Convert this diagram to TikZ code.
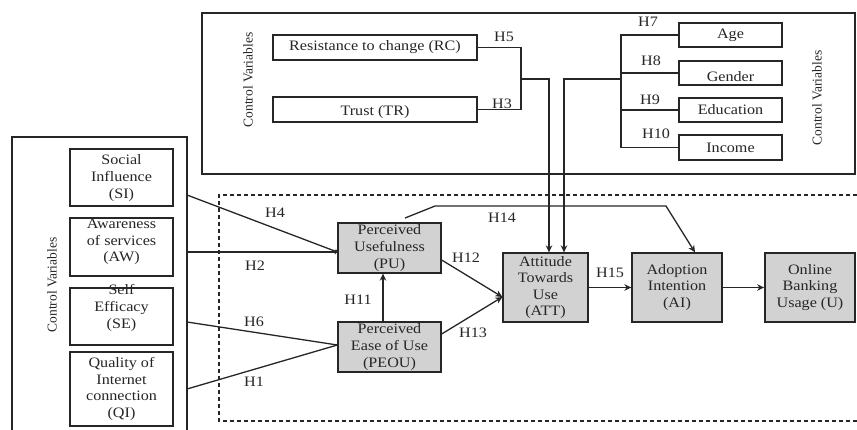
\documentclass[tikz,border=0pt]{standalone}
\usepackage{fontspec}
\setmainfont{Liberation Serif}[FakeStretch=1.12]
\newfontfamily\cvfont{Liberation Serif}
\usetikzlibrary{arrows.meta,calc}
\definecolor{ink}{HTML}{262626}
\definecolor{boxgray}{HTML}{D2D2D2}
\begin{document}
\begin{tikzpicture}[x=1pt,y=-1pt,
  every node/.style={font=\fontsize{14.4}{16.6}\selectfont, text=ink},
  line/.style={draw=ink, line width=1.3pt},
  arr/.style={line, -{Stealth[length=7pt,width=6.5pt]}},
  tinyarr/.style={line, -{Stealth[length=2.5pt,width=5pt]}},
  wbox/.style={draw=ink, line width=1.3pt, fill=white, inner sep=0pt, align=center},
  gbox/.style={draw=ink, line width=1.3pt, fill=boxgray, inner sep=0pt, align=center},
  txt/.style={inner sep=0pt, align=center},
  hlab/.style={inner sep=0pt},
  cv/.style={inner sep=0pt, rotate=90, font=\cvfont\fontsize{13.5}{15}\selectfont}
]
\useasboundingbox (0,0) rectangle (857,430);

% containers
\draw[line] (202,13) rectangle (855,174);
\draw[draw=ink, line width=1.2pt, dash pattern=on 4pt off 3pt] (857,195) -- (219,195) -- (219,421) -- (857,421);
\draw[line] (12,432) -- (12,137) -- (187,137) -- (187,432);

\node[cv] (cvl) at (248,80) {Control Variables};
\node[cv] (cvr) at (817,98) {Control Variables};
\node[cv] (cvm) at (52,285) {Control Variables};

% top-left boxes
\node[wbox, minimum width=204pt, minimum height=25pt] (rc) at (375,47.5) {Resistance to change (RC)};
\node[wbox, minimum width=204pt, minimum height=25pt] (tr) at (375,109.5) {};
\node[txt] (trt) at (375,112) {Trust (TR)};

% top-right boxes
\node[wbox, minimum width=103pt, minimum height=24pt] (age) at (730.5,35) {Age};
\node[wbox, minimum width=103pt, minimum height=24pt] (gen) at (730.5,73) {};
\node[txt] (gent) at (730.5,77) {Gender};
\node[wbox, minimum width=103pt, minimum height=24pt] (edu) at (730.5,110) {Education};
\node[wbox, minimum width=103pt, minimum height=25pt] (inc) at (730.5,147.5) {Income};

% left boxes
\node[wbox, minimum width=103pt, minimum height=57pt] (si) at (121.5,177.5) {};
\node[txt] (sit) at (121.5,178) {Social\\Influence\\(SI)};
\node[wbox, minimum width=103pt, minimum height=58pt] (aw) at (121.5,247) {};
\node[txt] (awt) at (121.5,242) {Awareness\\of services\\(AW)};
\node[wbox, minimum width=103pt, minimum height=57pt] (se) at (121.5,316.5) {};
\node[txt] (set) at (121.5,308) {Self\\Efficacy\\(SE)};
\node[wbox, minimum width=103pt, minimum height=74pt] (qi) at (121.5,389) {};
\node[txt] (qit) at (121.5,389) {Quality of\\Internet\\connection\\(QI)};

% grey boxes
\node[gbox, minimum width=103pt, minimum height=50pt] (pu) at (389.5,248) {Perceived\\Usefulness\\(PU)};
\node[gbox, minimum width=103pt, minimum height=50pt] (peou) at (389.5,347) {Perceived\\Ease of Use\\(PEOU)};
\node[gbox, minimum width=85pt, minimum height=69pt] (att) at (545.5,287.5) {Attitude\\Towards\\Use\\(ATT)};
\node[gbox, minimum width=90pt, minimum height=69pt] (ai) at (677,287.5) {Adoption\\Intention\\(AI)};
\node[gbox, minimum width=90pt, minimum height=69pt, line width=1.8pt] (u) at (810,287.5) {Online\\Banking\\Usage (U)};

% brackets top-left
\coordinate (b1) at (521,79);
\draw[line] (rc.east) -| (b1) |- (tr.east);
\draw[arr] (b1) -| ($(att.north)+(3.5,0)$);
% brackets top-right
\coordinate (b2) at (621,79);
\coordinate (b2t) at (621,35);
\coordinate (b2b) at (621,147.5);
\draw[line] (age.west) -- (b2t) -- (b2b) -- (inc.west);
\draw[line] (gen.west) -- (gen.west -| b2);
\draw[line] (edu.west) -- (edu.west -| b2);
\draw[arr] (b2) -| ($(att.north)+(18.5,0)$);

% left connectors
\coordinate (s1) at (187,195);
\coordinate (s2) at (187,252);
\coordinate (s3) at (187,322);
\coordinate (s4) at (187,389);
\coordinate (puin) at ($(pu.west)+(0,4)$);
\coordinate (peouin) at ($(peou.west)+(0,-2)$);
\draw[tinyarr] (s1) -- (puin);
\draw[tinyarr] (s2) -- (puin);
\draw[line] (s3) -- (peouin);
\draw[line] (s4) -- (peouin);

\draw[arr] (peou.north -| 383,0) -- (pu.south -| 383,0);

\coordinate (puout) at ($(pu.east)+(0,12)$);
\coordinate (peouout) at ($(peou.east)+(0,-13)$);
\coordinate (attin) at ($(att.west)+(0,9.5)$);
\draw[arr] (puout) -- (attin);
\draw[arr] (peouout) -- (attin);
\draw[arr] (att.east) -- (ai.west);
\draw[arr] (ai.east) -- (u.west);

\coordinate (h14a) at (405,218);
\coordinate (h14b) at (435,206);
\coordinate (h14c) at (666,206);
\draw[arr] (h14a) -- (h14b) -- (h14c) -- ($(ai.north)+(18,0)$);

% labels
\node[hlab] (l5) at (504,37) {H5};
\node[hlab] (l3) at (502,104) {H3};
\node[hlab] (l7) at (648,22) {H7};
\node[hlab] (l8) at (651,61) {H8};
\node[hlab] (l9) at (650,100) {H9};
\node[hlab] (l10) at (656,134) {H10};
\node[hlab] (l4) at (275,213) {H4};
\node[hlab] (l2) at (255,266) {H2};
\node[hlab] (l6) at (254,322) {H6};
\node[hlab] (l1) at (254,382) {H1};
\node[hlab] (l11) at (358,300) {H11};
\node[hlab] (l12) at (466,258) {H12};
\node[hlab] (l13) at (473,333) {H13};
\node[hlab] (l14) at (502,218) {H14};
\node[hlab] (l15) at (610,273) {H15};
\end{tikzpicture}
\end{document}
